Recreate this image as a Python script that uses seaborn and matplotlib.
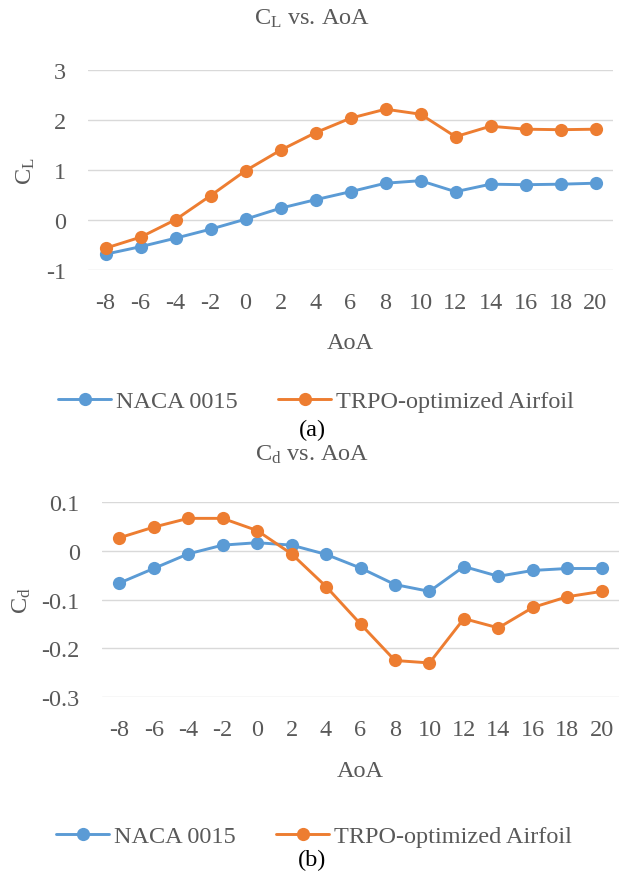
import matplotlib
matplotlib.use("Agg")
import matplotlib.pyplot as plt
import seaborn as sns
import pandas as pd
from matplotlib.lines import Line2D

aoa = [-8, -6, -4, -2, 0, 2, 4, 6, 8, 10, 12, 14, 16, 18, 20]
series_names = ["NACA 0015", "TRPO-optimized Airfoil"]
cl_naca = [-0.69, -0.54, -0.37, -0.19, 0.01, 0.23, 0.40, 0.56, 0.73, 0.78, 0.56, 0.71, 0.70, 0.71, 0.73]
cl_trpo = [-0.57, -0.35, 0.00, 0.48, 0.98, 1.39, 1.74, 2.03, 2.21, 2.11, 1.66, 1.87, 1.81, 1.80, 1.81]
cd_naca = [-0.066, -0.036, -0.006, 0.012, 0.017, 0.012, -0.007, -0.035, -0.069, -0.083, -0.032, -0.052, -0.040, -0.036, -0.036]
cd_trpo = [0.027, 0.049, 0.067, 0.067, 0.042, -0.006, -0.073, -0.150, -0.225, -0.230, -0.139, -0.158, -0.116, -0.094, -0.083]
cl_ticks = [-1, 0, 1, 2, 3]
cl_ticklabels = ["-1", "0", "1", "2", "3"]
cd_ticks = [-0.3, -0.2, -0.1, 0.0, 0.1]
cd_ticklabels = ["-0.3", "-0.2", "-0.1", "0", "0.1"]
xticklabels = [str(a) for a in aoa]

sns.set_theme(style="white")
plt.rcParams["font.family"] = ["Liberation Serif", "DejaVu Serif"]
plt.rcParams["mathtext.fontset"] = "custom"
plt.rcParams["mathtext.rm"] = "Liberation Serif"
plt.rcParams["mathtext.it"] = "Liberation Serif:italic"
plt.rcParams["axes.unicode_minus"] = False

TXT = "#595959"
GRID = "#D9D9D9"
palette = {"NACA 0015": "#5B9BD5", "TRPO-optimized Airfoil": "#ED7D31"}

df = pd.DataFrame({
    "AoA": aoa * 2,
    "Airfoil": [series_names[0]] * len(aoa) + [series_names[1]] * len(aoa),
    "CL": cl_naca + cl_trpo,
    "Cd": cd_naca + cd_trpo,
})

fig = plt.figure(figsize=(6.24, 8.78), dpi=100)
W, H = 624, 878

def add_ax(left, top, right, bottom):
    return fig.add_axes([left / W, 1 - bottom / H, (right - left) / W, (bottom - top) / H])

ax1 = add_ax(88, 70.7, 613, 270.7)
ax2 = add_ax(102, 503.3, 619, 698.0)

FS = 17.5
MS = 9.5
LW = 2.1

def style(ax, col, ticks, ticklabels, ylim, ylabel):
    sns.lineplot(data=df, x="AoA", y=col, hue="Airfoil", palette=palette, marker="o",
                 markersize=MS, markeredgewidth=0, linewidth=LW, ax=ax, legend=False,
                 zorder=3)
    ax.set_xlim(-9, 21)
    ax.set_ylim(*ylim)
    ax.set_yticks(ticks)
    ax.set_yticklabels(ticklabels)
    ax.set_xticks(aoa)
    ax.set_xticklabels(xticklabels)
    for t in ticks:
        ax.axhline(t, color=GRID, lw=1.0, zorder=1)
    for s in ax.spines.values():
        s.set_visible(False)
    ax.tick_params(axis="both", length=0, labelsize=FS, colors=TXT, pad=16)
    ax.set_xlabel("AoA", fontsize=FS, color=TXT, labelpad=14)
    ax.set_ylabel(ylabel, fontsize=FS, color=TXT)
    ax.patch.set_alpha(0)

style(ax1, "CL", cl_ticks, cl_ticklabels, (-1, 3), r"C$_\mathrm{L}$")
style(ax2, "Cd", cd_ticks, cd_ticklabels, (-0.3, 0.1), r"C$_\mathrm{d}$")
ax1.yaxis.set_label_coords((37 - 88) / 525, 0.5)
ax2.yaxis.set_label_coords((33 - 102) / 517, 0.5)

fig.text(0.5, 1 - 19 / H, r"C$_\mathrm{L}$ vs. AoA", ha="center", va="center", fontsize=FS, color=TXT)
fig.text(0.5, 1 - 455 / H, r"C$_\mathrm{d}$ vs. AoA", ha="center", va="center", fontsize=FS, color=TXT)
fig.text(0.5, 1 - 430 / H, "(a)", ha="center", va="center", fontsize=FS, color="black")
fig.text(0.5, 1 - 860 / H, "(b)", ha="center", va="center", fontsize=FS, color="black")

handles = [Line2D([], [], color=palette[n], marker="o", markersize=MS, markeredgewidth=0, lw=LW) for n in series_names]
for xc, yc in ((316, 402), (314, 837)):
    fig.legend(handles, series_names, loc="center", bbox_to_anchor=(xc / W, 1 - yc / H),
               ncol=2, frameon=False, fontsize=FS, handlelength=2.2, handletextpad=0.2,
               columnspacing=1.65, labelcolor=TXT)

fig.savefig("out.png", dpi=100)
